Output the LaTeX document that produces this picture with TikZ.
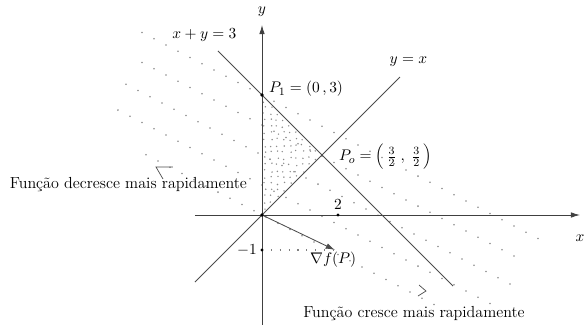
\documentclass[tikz,border=0pt]{standalone}
\usetikzlibrary{arrows.meta}

\begin{document}
\begin{tikzpicture}[>={Latex[length=2.3mm,width=1.4mm]}, line width=0.6pt,
    font=\fontsize{11.4}{13.5}\selectfont,
    eixo/.style={black!75},
    reta/.style={black!70},
    ponto/.style={fill=black},
    pontinho/.style={fill=black!45},
    marca/.style={black!70, line width=0.5pt}]
  \useasboundingbox (-6.55,-2.725) rectangle (8.075,5.375);
  % Pontos da figura
  \coordinate (O) at (0,0);
  \coordinate (P1) at (0,3);
  \coordinate (P0) at (1.5,1.5);
  \coordinate (G) at (1.825,-0.875);
  \coordinate (M) at (0,-0.875);
  \coordinate (D) at (1.9,0);
  \coordinate (xa) at (-1.675,0);
  \coordinate (xb) at (7.95,0);
  \coordinate (ya) at (0,-2.75);
  \coordinate (yb) at (0,4.75);
  \coordinate (r1) at (-1.1,4.1);
  \coordinate (r2) at (4.775,-1.775);
  \coordinate (s1) at (-1.675,-1.675);
  \coordinate (s2) at (3.45,3.45);
  % Faixa pontilhada
  \foreach \k/\a/\n in {0/-3.0/33, 1/-3.0/31, 2/-3.4/32, 3/-3.6/31, 4/-2.9/25}
    \foreach \j in {0,...,\n}
      \fill[pontinho] ({\a+0.3*\j},{3-0.75*\k-0.52*(\a+0.3*\j)}) circle (0.022);
  % Regiao do triangulo
  \pgfmathsetseed{11}
  \foreach \r in {1,...,18}{
    \pgfmathsetmacro{\yy}{\r*0.158}
    \pgfmathsetmacro{\w}{min(\yy,3-\yy)-0.1}
    \pgfmathtruncatemacro{\m}{max(\w/0.16,0)}
    \foreach \j in {0,...,\m}
      \fill[pontinho] ({0.06+\j*0.16+0.035*rand},{\yy+0.035*rand}) circle (0.02);
  }
  % Eixos
  \draw[eixo, ->] (xa) -- (xb);
  \draw[eixo, ->] (ya) -- (yb);
  \node (lx) at (7.95,-0.575) {$x$};
  \node (ly) at (0,5.075) {$y$};
  % Retas
  \draw[reta] (r1) -- (r2);
  \draw[reta] (s1) -- (s2);
  \node (lr) at (-1.44,4.5) {$x+y=3$};
  \node (ls) at (3.66,3.825) {$y=x$};
  % Gradiente
  \draw[reta, ->] (O) -- (G);
  \draw[black!50, line width=0.8pt, dash pattern=on 0.8pt off 5.5pt] (M) -- (G);
  \node (lg) at (1.78,-1.125) {$\nabla f(P)$};
  % Pontos marcados
  \fill[ponto] (O) circle (0.045);
  \fill[ponto] (P1) circle (0.045);
  \fill[ponto] (D) circle (0.04);
  \fill[ponto] (M) circle (0.04);
  \node[anchor=south] (l2) at (D) {$2$};
  \node[anchor=east] (lm) at (M) {$-1$};
  \node[anchor=west] (lp1) at (0.05,3.15) {$P_1=(0\,,3)$};
  \node[anchor=west] (lp0) at (1.8,1.45) {$P_o=\left(\,\frac{3}{2}\;,\;\frac{3}{2}\,\right)$};
  % Sentidos
  \draw[marca] (-2.225,1.2) -- (-2.65,1.2) -- (-2.475,0.9);
  \draw[marca] (3.925,-1.75) -- (4.1,-1.9) -- (3.9,-2.025);
  \node (ldec) at (-3.34,0.75) {Função decresce mais rapidamente};
  \node (lcre) at (3.8,-2.475) {Função cresce mais rapidamente};
\end{tikzpicture}
\end{document}
